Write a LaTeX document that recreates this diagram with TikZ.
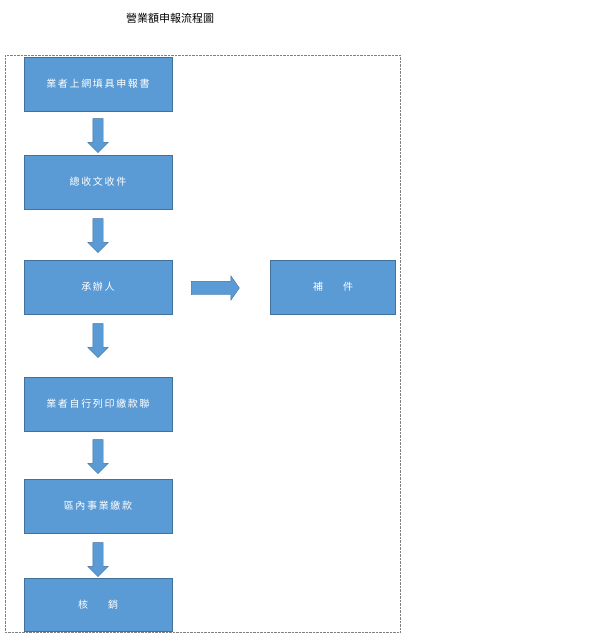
\documentclass[tikz,border=0pt]{standalone}
\usepackage{fontspec}
\newfontfamily\cjk{Noto Sans CJK TC}
\usetikzlibrary{positioning,shapes.arrows}
\definecolor{boxblue}{RGB}{91,155,213}
\definecolor{boxedge}{RGB}{65,113,156}
\begin{document}
\begin{tikzpicture}
 [x=1pt,y=-1pt,
% Box and arrow style
    stage/.style={rectangle,draw=boxedge,fill=boxblue,minimum width=148pt,
        minimum height=54pt,text=white,font=\cjk\fontsize{10}{12}\selectfont},
    flow/.style={single arrow,draw=boxedge,fill=boxblue,minimum height=34pt,
        inner sep=5pt,single arrow head extend=5pt}
 ]
 \useasboundingbox (0,0) rectangle (611,635);
 \draw[gray,densely dotted] (5,55) rectangle (400,632);
 \node (title) at (170,18) {\cjk\fontsize{11}{13}\selectfont 營業額申報流程圖};
%% Draw stages
 \node (s1) [stage] at (98,84)  {業\,者\,上\,網\,填\,具\,申\,報\,書};
 \node (s2) [stage] at (98,182) {總\,收\,文\,收\,件};
 \node (s3) [stage] at (98,287) {承\,辦\,人};
 \node (s4) [stage,minimum width=125pt] at (333,287) {補　　件};
 \node (s5) [stage] at (98,404) {業\,者\,自\,行\,列\,印\,繳\,款\,聯};
 \node (s6) [stage] at (98,506) {區\,內\,事\,業\,繳\,款};
 \node (s7) [stage,minimum height=53pt] at (98,605) {核　　銷};
%% Block arrows
 \node (a1) [flow,rotate=-90] at (98,133) {};
 \node (a2) [flow,rotate=-90] at (98,233) {};
 \node (a3) [flow,minimum height=48pt,inner sep=6.5pt,single arrow head extend=5.5pt,
     single arrow tip angle=110] at (213,288) {};
 \node (a4) [flow,rotate=-90] at (98,338) {};
 \node (a5) [flow,rotate=-90] at (98,454) {};
 \node (a6) [flow,rotate=-90] at (98,557) {};
\end{tikzpicture}
\end{document}
